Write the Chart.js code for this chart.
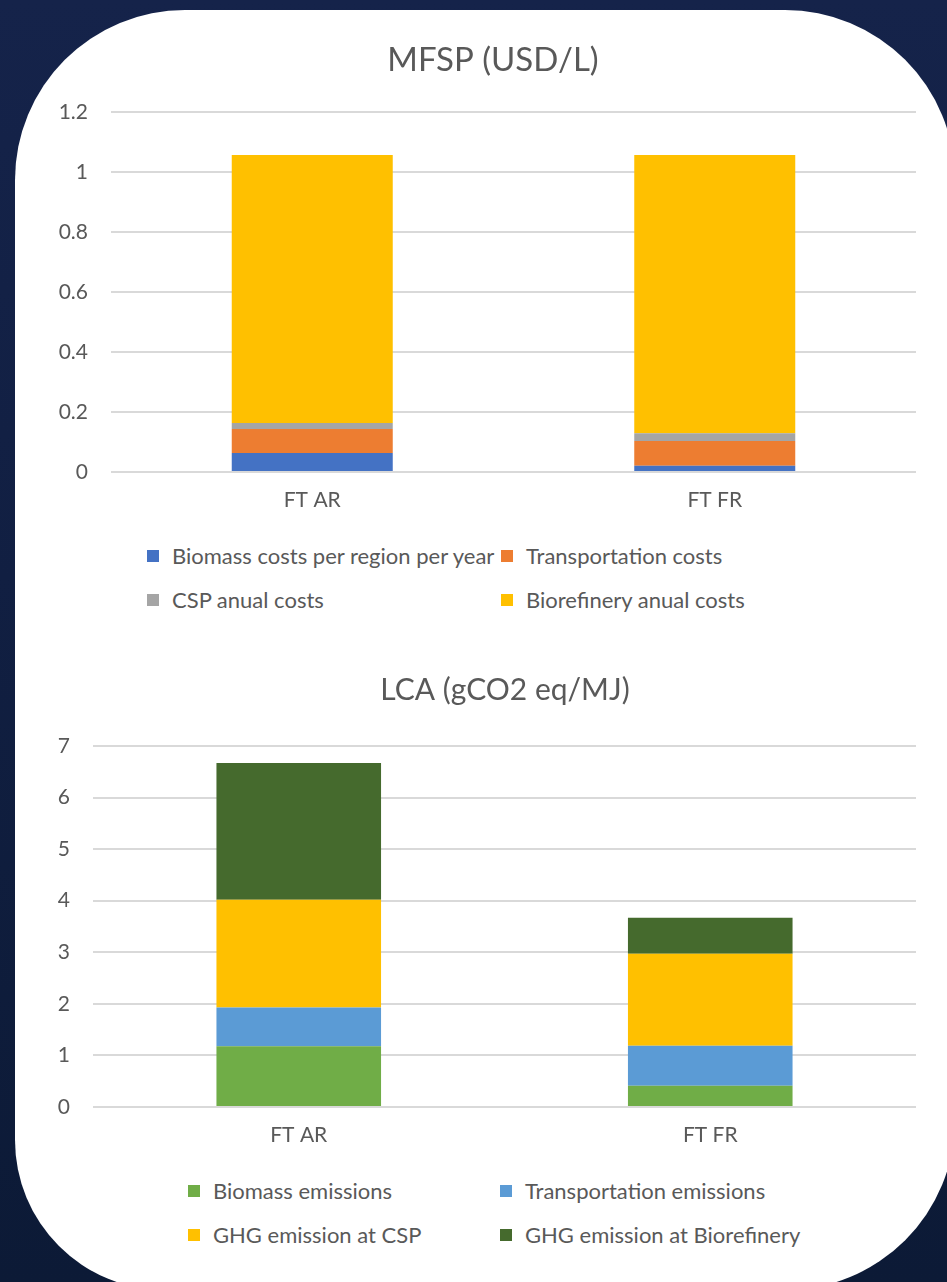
<!DOCTYPE html>
<html>
<head>
<meta charset="utf-8">
<title>MFSP and LCA of FT pathways</title>
<script src="https://cdn.jsdelivr.net/npm/chart.js@4.4.1/dist/chart.umd.min.js"></script>
<style>
  html, body { margin: 0; padding: 0; }
  body {
    width: 947px; height: 1282px; overflow: hidden; position: relative;
    background: linear-gradient(180deg, #15234a 0%, #111f42 45%, #0c1a36 100%);
    font-family: Lato, "Open Sans", sans-serif;
  }
  .panel {
    position: absolute; left: 15px; top: 10px; width: 940px; height: 1280px;
    background: #ffffff;
    border-radius: 170px 170px 170px 150px;
  }
  canvas { position: absolute; left: 0; }
  .legend {
    position: absolute; display: grid; row-gap: 20px;
    color: #595959; font-size: 22px; line-height: 24px;
  }
  .legend .item { display: flex; align-items: center; white-space: nowrap; }
  .legend .swatch { width: 12px; height: 12px; margin-right: 13px; flex: none; }
</style>
</head>
<body>
<div class="panel"></div>
<canvas id="mfsp" width="947" height="520" style="top:0px"></canvas>
<div class="legend" id="mfspLegend" style="left:147px; top:544px; grid-template-columns:354px auto;"></div>
<canvas id="lca" width="947" height="535" style="top:620px"></canvas>
<div class="legend" id="lcaLegend" style="left:188px; top:1179px; grid-template-columns:312px auto;"></div>

<script>
// Categories shared by both charts
const pathways = ['FT AR', 'FT FR'];

// MFSP breakdown (USD/L)
const biomassCosts        = [0.063, 0.021];
const transportationCosts = [0.080, 0.082];
const cspAnnualCosts      = [0.020, 0.026];
const biorefineryCosts    = [0.894, 0.928];

// LCA breakdown (gCO2 eq/MJ)
const biomassEmissions        = [1.18, 0.41];
const transportationEmissions = [0.75, 0.78];
const cspEmissions            = [2.09, 1.78];
const biorefineryEmissions    = [2.65, 0.70];

// Axis ranges
const mfspAxis = { min: 0, max: 1.2, step: 0.2 };
const lcaAxis  = { min: 0, max: 7,   step: 1 };

const TEXT = '#595959';
const GRID = '#d9d9d9';
const FONT = 'Lato, "Open Sans", sans-serif';

// Centres the title over the whole chart object (not just the plot area)
const titleCentre = {
  id: 'titleCentre',
  afterLayout(chart, args, opts) {
    const t = chart.titleBlock;
    if (!t || opts.x == null) return;
    const shift = opts.x - (t.left + t.right) / 2;
    t.left += shift;
    t.right += shift;
  }
};

function stackedChart(canvasId, title, datasets, axis, geom) {
  return new Chart(document.getElementById(canvasId), {
    type: 'bar',
    data: { labels: pathways, datasets },
    plugins: [titleCentre],
    options: {
      responsive: false,
      animation: false,
      devicePixelRatio: 1,
      categoryPercentage: 1,
      barPercentage: 0.4,
      layout: { padding: { left: 0, right: geom.right, top: 0, bottom: 0 } },
      plugins: {
        legend: { display: false },
        tooltip: { enabled: false },
        titleCentre: { x: geom.titleX },
        title: {
          display: true,
          text: title,
          color: TEXT,
          font: { family: FONT, size: geom.titleSize, weight: 'normal', lineHeight: 1.2 },
          padding: { top: geom.titleTop, bottom: geom.titleBottom }
        }
      },
      scales: {
        x: {
          stacked: true,
          grid: { display: false, drawTicks: false },
          border: { display: false },
          ticks: { color: TEXT, font: { family: FONT, size: 21 }, padding: 16 },
          afterFit: s => { s.height = 48; }
        },
        y: {
          stacked: true,
          min: axis.min, max: axis.max,
          grid: { color: GRID, lineWidth: 2, drawTicks: false },
          border: { display: false },
          ticks: {
            stepSize: axis.step, color: TEXT, padding: geom.tickPad,
            font: { family: FONT, size: 21 },
            callback: v => String(Number(v.toFixed(2)))
          },
          afterFit: s => { s.width = geom.axisWidth; }
        }
      }
    }
  });
}

function buildLegend(chart, elId) {
  const el = document.getElementById(elId);
  chart.data.datasets.forEach(ds => {
    const item = document.createElement('div');
    item.className = 'item';
    const sw = document.createElement('span');
    sw.className = 'swatch';
    sw.style.background = ds.backgroundColor;
    const tx = document.createElement('span');
    tx.textContent = ds.label;
    item.appendChild(sw);
    item.appendChild(tx);
    el.appendChild(item);
  });
}

const mfspChart = stackedChart('mfsp', 'MFSP (USD/L)', [
  { label: 'Biomass costs per region per year', data: biomassCosts,        backgroundColor: '#4472c4' },
  { label: 'Transportation costs',              data: transportationCosts, backgroundColor: '#ed7d31' },
  { label: 'CSP anual costs',                   data: cspAnnualCosts,      backgroundColor: '#a5a5a5' },
  { label: 'Biorefinery anual costs',           data: biorefineryCosts,    backgroundColor: '#ffc000' }
], mfspAxis, { right: 31, axisWidth: 111, tickPad: 23, titleX: 493, titleSize: 33, titleTop: 40.2, titleBottom: 32.2 });

const lcaChart = stackedChart('lca', 'LCA (gCO2 eq/MJ)', [
  { label: 'Biomass emissions',            data: biomassEmissions,        backgroundColor: '#70ad47' },
  { label: 'Transportation emissions',     data: transportationEmissions, backgroundColor: '#5b9bd5' },
  { label: 'GHG emission at CSP',          data: cspEmissions,            backgroundColor: '#ffc000' },
  { label: 'GHG emission at Biorefinery',  data: biorefineryEmissions,    backgroundColor: '#456a2d' }
], lcaAxis, { right: 31, axisWidth: 93, tickPad: 23, titleX: 505, titleSize: 30, titleTop: 52, titleBottom: 38 });

buildLegend(mfspChart, 'mfspLegend');
buildLegend(lcaChart, 'lcaLegend');
</script>
</body>
</html>
